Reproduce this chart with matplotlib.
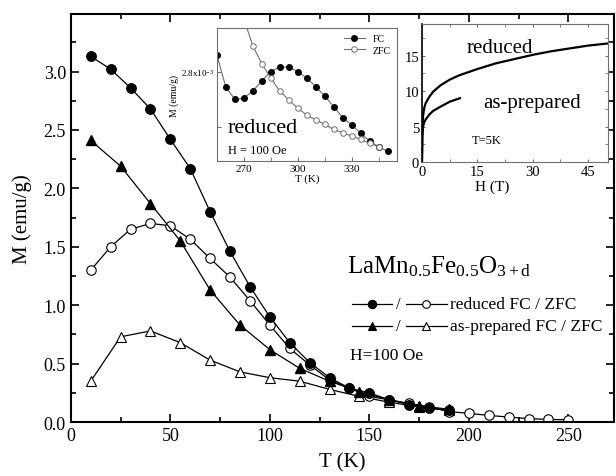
import matplotlib
matplotlib.use("Agg")
import matplotlib.pyplot as plt
from matplotlib.lines import Line2D
from matplotlib.ticker import MultipleLocator, FixedLocator

plt.rcParams["font.family"] = ["Liberation Serif", "DejaVu Serif"]
plt.rcParams["mathtext.fontset"] = "custom"
plt.rcParams["mathtext.rm"] = "Liberation Serif"
plt.rcParams["mathtext.it"] = "Liberation Serif:italic"

# main panel: M(T) at H = 100 Oe
T_red = [10, 20, 30, 40, 50, 60, 70, 80, 90, 100, 110, 120, 130, 140, 150, 160, 170, 180, 190]
M_red_fc = [3.13, 3.02, 2.86, 2.68, 2.42, 2.17, 1.80, 1.46, 1.16, 0.90, 0.68, 0.51, 0.38, 0.29,
            0.25, 0.19, 0.15, 0.12, 0.10]
T_red_zfc = [10, 20, 30, 40, 50, 60, 70, 80, 90, 100, 110, 120, 130, 140, 150, 160, 170, 180,
             190, 200, 210, 220, 230, 240, 250]
M_red_zfc = [1.30, 1.50, 1.65, 1.70, 1.68, 1.565, 1.40, 1.24, 1.04, 0.83, 0.63, 0.49, 0.36, 0.29,
             0.22, 0.19, 0.16, 0.13, 0.09, 0.075, 0.057, 0.043, 0.03, 0.023, 0.02]

T_asp = [10, 25, 40, 55, 70, 85, 100, 115, 130, 145, 160, 175, 190]
M_asp_fc = [2.41, 2.19, 1.87, 1.55, 1.13, 0.83, 0.62, 0.46, 0.35, 0.26, 0.19, 0.14, 0.11]
M_asp_zfc = [0.35, 0.73, 0.78, 0.68, 0.53, 0.43, 0.38, 0.35, 0.28, 0.22, 0.17, 0.13, 0.10]

# inset 1: reduced sample near room temperature (units of 1e-3 emu/g)
T_in_fc = [255, 260, 265, 270, 275, 280, 285, 290, 295, 300, 305, 310, 315, 320, 325, 330, 335,
           340, 345, 350]
M_in_fc = [2.830, 2.772, 2.750, 2.752, 2.765, 2.783, 2.800, 2.808, 2.808, 2.800, 2.788, 2.773,
           2.756, 2.737, 2.717, 2.704, 2.689, 2.675, 2.665, 2.657]
T_in_zfc = [270, 275, 280, 285, 290, 295, 300, 305, 310, 315, 320, 325, 330, 335, 340, 345]
M_in_zfc = [2.895, 2.846, 2.814, 2.788, 2.765, 2.749, 2.734, 2.722, 2.713, 2.705, 2.696, 2.690,
            2.684, 2.678, 2.671, 2.665]

# inset 2: M(H) at T = 5 K
H_red = [0, 0.1, 0.3, 0.6, 1, 2, 3, 5, 7.5, 10, 15, 20, 25, 30, 35, 40, 45, 50.4]
M_red_H = [0, 4.5, 6.5, 7.6, 8.3, 9.2, 9.9, 10.8, 11.6, 12.2, 13.1, 13.9, 14.5, 15.1, 15.6,
           16.0, 16.4, 16.7]
H_asp = [0, 0.1, 0.3, 0.6, 1, 2, 3, 5, 7.5, 10.3]
M_asp_H = [0, 3.5, 5.0, 5.6, 6.0, 6.7, 7.2, 7.8, 8.5, 9.0]

fig = plt.figure(figsize=(6.16, 4.77), dpi=100)
ax = fig.add_axes([0.115, 0.113, 0.882, 0.855])

lk = dict(color="black", lw=0.9)
ax.plot(T_asp, M_asp_zfc, marker="^", ms=7, mfc="white", mec="black", mew=0.8, **lk)
ax.plot(T_red_zfc, M_red_zfc, marker="o", ms=6.8, mfc="white", mec="black", mew=0.8, **lk)
ax.plot(T_asp, M_asp_fc, marker="^", ms=7, mfc="black", mec="black", **lk)
ax.plot(T_red, M_red_fc, marker="o", ms=6.8, mfc="black", mec="black", **lk)

ax.set_xlim(0, 273)
ax.set_ylim(0, 3.49)
ax.xaxis.set_major_locator(MultipleLocator(50))
ax.xaxis.set_minor_locator(MultipleLocator(25))
ax.yaxis.set_major_locator(MultipleLocator(0.5))
ax.yaxis.set_minor_locator(MultipleLocator(0.25))
ax.yaxis.set_major_formatter(matplotlib.ticker.FormatStrFormatter("%.1f"))
ax.tick_params(which="both", direction="in", top=True, right=True, labelsize=13, width=1.2)
ax.tick_params(which="major", length=6)
ax.tick_params(which="minor", length=3.5)
for s in ax.spines.values():
    s.set_linewidth(1.5)
ax.set_xlabel("T (K)", fontsize=15, labelpad=6)
ax.set_ylabel("M (emu/g)", fontsize=15, labelpad=8)

# formula and legend, drawn in axes fraction
ax.text(0.508, 0.368, r"LaMn$_{\mathrm{0.5}}$Fe$_{\mathrm{0.5}}$O$_{\mathrm{3+d}}$",
        transform=ax.transAxes, fontsize=18, va="baseline")
rows = [(0.289, "o", "reduced FC / ZFC"), (0.235, "^", "as-prepared FC / ZFC")]
for fy, mk, label in rows:
    for x0, x1, fc in [(0.5175, 0.591, "black"), (0.617, 0.692, "white")]:
        ax.add_line(Line2D([x0, x1], [fy, fy], color="black", lw=0.9, transform=ax.transAxes))
        ax.add_line(Line2D([(x0 + x1) / 2], [fy], marker=mk, ms=6 if fc == "black" else 5.5,
                           mfc=fc, mec="black", mew=0.8, transform=ax.transAxes))
    ax.text(0.6035, fy, "/", transform=ax.transAxes, fontsize=12, ha="center", va="center")
    ax.text(0.698, fy, label, transform=ax.transAxes, fontsize=12.5, va="center")
ax.text(0.513, 0.154, "H=100 Oe", transform=ax.transAxes, fontsize=12.5, va="baseline")

# inset 1
gray = "#707070"
a1 = fig.add_axes([0.352, 0.660, 0.292, 0.279])
a1.plot(T_in_fc, M_in_fc, color=gray, lw=0.8, marker="o", ms=4, mfc="black", mec="black",
        label="FC")
a1.plot(T_in_zfc, M_in_zfc, color=gray, lw=0.8, marker="o", ms=4, mfc="white", mec=gray,
        mew=0.7, label="ZFC")
a1.set_xlim(255, 355)
a1.set_ylim(2.639, 2.878)
a1.xaxis.set_major_locator(MultipleLocator(30))
a1.xaxis.set_minor_locator(MultipleLocator(15))
a1.yaxis.set_major_locator(FixedLocator([2.7, 2.8]))
a1.set_yticklabels(["", r"2.8x10$^{-3}$"])
a1.tick_params(which="both", direction="in", labelsize=8, color=gray, length=3, pad=2)
a1.tick_params(axis="y", labelsize=6.5)
for s in a1.spines.values():
    s.set_color(gray)
a1.set_xlabel("T (K)", fontsize=8, labelpad=0)
a1.set_ylabel("M (emu/g)", fontsize=7, labelpad=1)
a1.legend(loc="upper right", fontsize=7, frameon=False, handlelength=2.2,
          borderaxespad=0.2, labelspacing=0.3)
a1.text(0.06, 0.22, "reduced", transform=a1.transAxes, fontsize=16, va="baseline")
a1.text(0.06, 0.06, "H = 100 Oe", transform=a1.transAxes, fontsize=9, va="baseline")

# inset 2
a2 = fig.add_axes([0.685, 0.658, 0.302, 0.289])
a2.plot(H_red, M_red_H, color="black", lw=1.6)
a2.plot(H_asp, M_asp_H, color="black", lw=1.6)
a2.set_xlim(0, 50.4)
a2.set_ylim(0, 19.4)
a2.xaxis.set_major_locator(MultipleLocator(15))
a2.xaxis.set_minor_locator(MultipleLocator(7.5))
a2.yaxis.set_major_locator(MultipleLocator(5))
a2.yaxis.set_minor_locator(MultipleLocator(2.5))
a2.tick_params(which="both", direction="in", top=True, right=True, labelsize=10.5,
               color=gray, length=2.5, pad=2)
for s in a2.spines.values():
    s.set_color(gray)
a2.spines["left"].set_color("black")
a2.spines["left"].set_linewidth(1.2)
a2.set_xlabel("H (T)", fontsize=11)
a2.xaxis.set_label_coords(0.38, -0.125)
a2.xaxis.label.set_va("top")
a2.text(0.24, 0.80, "reduced", transform=a2.transAxes, fontsize=15, va="baseline")
a2.text(0.33, 0.40, "as-prepared", transform=a2.transAxes, fontsize=15, va="baseline")
a2.text(0.27, 0.14, "T=5K", transform=a2.transAxes, fontsize=9, va="baseline")

fig.savefig("out.png", dpi=100)
